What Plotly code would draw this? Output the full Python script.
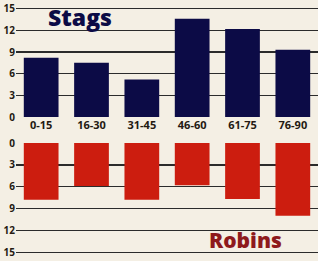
import plotly.graph_objects as go

categories = ["0-15", "16-30", "31-45", "46-60", "61-75", "76-90"]
stags = [8.2, 7.5, 5.2, 13.6, 12.2, 9.3]
robins = [7.8, 5.9, 7.8, 5.8, 7.7, 10.0]
tick_vals = [0, 3, 6, 9, 12, 15]

bg = "#f4efe4"
navy = "#0c0b46"
red = "#cc1d0f"
grid = "#2b2b2b"

fig = go.Figure()
fig.add_trace(go.Bar(x=categories, y=stags, marker=dict(color=navy, line=dict(width=0)),
                     xaxis="x", yaxis="y", hoverinfo="skip"))
fig.add_trace(go.Bar(x=categories, y=robins, marker=dict(color=red, line=dict(width=0)),
                     xaxis="x2", yaxis="y2", hoverinfo="skip"))

tickfont = dict(family="Open Sans", size=10, color="#241a12", weight=700)

fig.update_layout(
    width=318, height=261,
    margin=dict(l=16, r=0, t=0, b=0, autoexpand=False),
    paper_bgcolor=bg, plot_bgcolor=bg,
    showlegend=False,
    bargap=0.31,
    hovermode=False,
    xaxis=dict(domain=[0, 1], range=[-0.5, 5.5], anchor="y", showgrid=False,
               showline=False, zeroline=False, ticks="", automargin=False,
               tickfont=dict(family="Open Sans", size=11, color="#241a12", weight=700)),
    yaxis=dict(domain=[1 - 117 / 261, 1], range=[0, 16.2], tickvals=tick_vals,
               showgrid=True, gridcolor=grid, gridwidth=1.5, zeroline=False,
               showline=False, ticks="", tickfont=tickfont, layer="below traces",
               automargin=False, ticklabeloverflow="allow"),
    xaxis2=dict(domain=[0, 1], range=[-0.5, 5.5], anchor="y2", showgrid=False,
                showline=False, zeroline=False, showticklabels=False, ticks="",
                automargin=False),
    yaxis2=dict(domain=[0, 1 - 143 / 261], range=[16.2, 0], tickvals=tick_vals,
                showgrid=True, gridcolor=grid, gridwidth=1.5, zeroline=False,
                showline=False, ticks="", tickfont=tickfont, layer="below traces",
                automargin=False, ticklabeloverflow="allow"),
    annotations=[
        dict(text="Stags", xref="paper", yref="paper", x=(80 - 16) / 302, y=1 - 17 / 261,
             xanchor="center", yanchor="middle", showarrow=False,
             font=dict(family="Open Sans", size=23, color=navy, weight=800)),
        dict(text="Robins", xref="paper", yref="paper", x=(245 - 16) / 302, y=1 - 240 / 261,
             xanchor="center", yanchor="middle", showarrow=False,
             font=dict(family="Open Sans", size=21, color="#8e1a1c", weight=800)),
    ],
)

fig.write_html("out.html", config={"displayModeBar": False, "staticPlot": True},
               post_script="document.body.style.margin='0';")
